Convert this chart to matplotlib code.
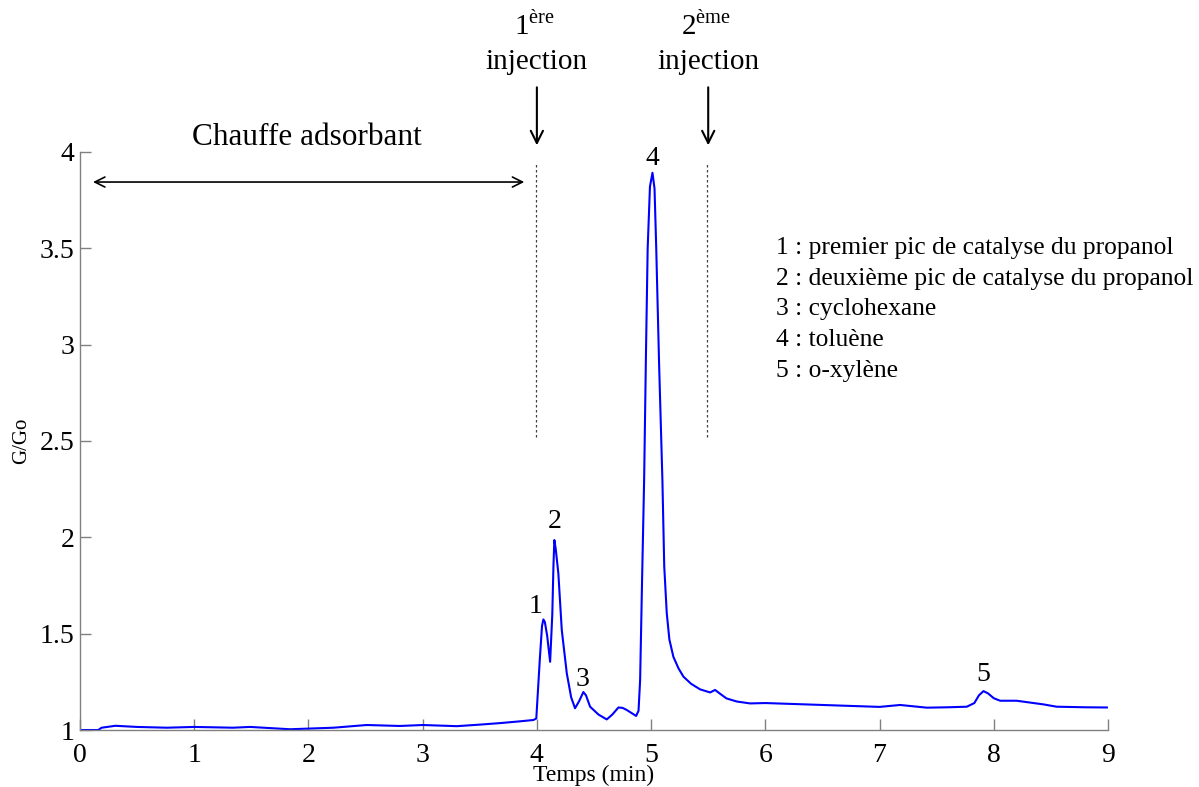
import matplotlib
matplotlib.use("Agg")
import matplotlib.pyplot as plt
import numpy as np

plt.rcParams['font.family'] = ['Liberation Serif', 'DejaVu Serif']
plt.rcParams['mathtext.fontset'] = 'custom'
plt.rcParams['mathtext.rm'] = 'Liberation Serif'

# Signal (time in min, G/Go)
temps = [0.0, 0.16, 0.19, 0.31, 0.5, 0.76, 1.0, 1.34, 1.49, 1.84, 2.22, 2.51, 2.8,
         3.0, 3.3, 3.5, 3.68, 3.85, 3.97, 3.995, 4.025, 4.045, 4.057, 4.07, 4.09,
         4.116, 4.135, 4.145, 4.153, 4.165, 4.188, 4.218, 4.262, 4.3, 4.334, 4.37,
         4.407, 4.43, 4.466, 4.54, 4.612, 4.66, 4.714, 4.75, 4.787, 4.869, 4.89,
         4.904, 4.921, 4.939, 4.955, 4.97, 4.99, 5.012, 5.03, 5.045, 5.07, 5.099,
         5.115, 5.137, 5.16, 5.195, 5.24, 5.283, 5.35, 5.429, 5.517, 5.56, 5.6,
         5.66, 5.75, 5.867, 6.0, 6.5, 7.0, 7.18, 7.414, 7.6, 7.764, 7.83, 7.87,
         7.91, 7.95, 8.0, 8.056, 8.2, 8.435, 8.55, 8.8, 8.99]
signal = [1.0, 1.0, 1.012, 1.022, 1.016, 1.012, 1.016, 1.012, 1.016, 1.004, 1.012,
          1.026, 1.021, 1.026, 1.02, 1.028, 1.036, 1.045, 1.052, 1.06, 1.36, 1.54,
          1.574, 1.56, 1.49, 1.354, 1.6, 1.85, 1.986, 1.94, 1.813, 1.519, 1.294,
          1.17, 1.113, 1.15, 1.197, 1.18, 1.121, 1.08, 1.055, 1.08, 1.117, 1.115,
          1.104, 1.073, 1.1, 1.26, 1.778, 2.297, 2.95, 3.5, 3.82, 3.892, 3.81, 3.5,
          2.9, 2.297, 1.85, 1.607, 1.47, 1.38, 1.32, 1.277, 1.24, 1.211, 1.195,
          1.208, 1.19, 1.164, 1.148, 1.138, 1.14, 1.13, 1.12, 1.13, 1.116, 1.118,
          1.121, 1.14, 1.18, 1.202, 1.19, 1.165, 1.152, 1.152, 1.133, 1.121, 1.118,
          1.117]

xticks = [0, 1, 2, 3, 4, 5, 6, 7, 8, 9]
yticks = [1, 1.5, 2, 2.5, 3, 3.5, 4]
ytick_labels = ['1', '1.5', '2', '2.5', '3', '3.5', '4']

peak_labels = ['1', '2', '3', '4', '5']
peak_pos = [(3.985, 1.64), (4.16, 2.08), (4.40, 1.26), (5.01, 3.965), (7.907, 1.29)]

legend_lines = ['1 : premier pic de catalyse du propanol',
                '2 : deuxième pic de catalyse du propanol',
                '3 : cyclohexane',
                '4 : toluène',
                '5 : o-xylène']

injections = [3.99, 5.49]
injection_labels = [r'$1^{\mathrm{ère}}$', r'$2^{\mathrm{ème}}$']

fig = plt.figure(figsize=(11.99, 7.87), dpi=100)
ax = fig.add_axes([0.0667, 0.0724, 0.8574, 0.7345])

ax.plot(temps, signal, color='#0000ff', lw=1.5)

ax.set_xlim(0, 9)
ax.set_ylim(1, 4)
ax.set_xticks(xticks)
ax.set_yticks(yticks)
ax.set_yticklabels(ytick_labels)
ax.tick_params(direction='in', length=8, width=1, color='#808080', labelsize=20)
ax.tick_params(axis='x', pad=9)
ax.tick_params(axis='y', pad=4)
for s in ['top', 'right']:
    ax.spines[s].set_visible(False)
for s in ['left', 'bottom']:
    ax.spines[s].set_color('#808080')
    ax.spines[s].set_linewidth(1)

ax.set_xlabel('Temps (min)', fontsize=17, labelpad=-2)
ax.set_ylabel('G/Go', fontsize=15, labelpad=6)

# heating period
ax.annotate('', xy=(0.09, 3.844), xytext=(3.914, 3.844),
            arrowprops=dict(arrowstyle='<->', color='black', lw=1.2,
                            mutation_scale=18))
ax.text(1.99, 4.077, 'Chauffe adsorbant', fontsize=22.5, ha='center', va='center')

# injections
for xi, lab in zip(injections, injection_labels):
    ax.plot([xi, xi], [2.52, 3.948], color='#404040', lw=0.9, ls=(0, (2, 2)))
    ax.annotate('', xy=(xi + 0.01, 4.02), xytext=(xi + 0.01, 4.35),
                arrowprops=dict(arrowstyle='->', color='black', lw=1.5,
                                mutation_scale=22), annotation_clip=False)
    ax.text(xi + 0.01, 4.467, 'injection', fontsize=21, ha='center',
            va='center', clip_on=False)
    ax.text(xi - 0.01, 4.655, lab, fontsize=21, ha='center', va='center',
            clip_on=False)

for lab, (px, py) in zip(peak_labels, peak_pos):
    ax.text(px, py, lab, fontsize=20, ha='center', va='center')

for i, line in enumerate(legend_lines):
    ax.text(6.095, 3.501 - i * 0.159, line, fontsize=18.4, ha='left', va='center')

fig.savefig('out.png', dpi=100)
